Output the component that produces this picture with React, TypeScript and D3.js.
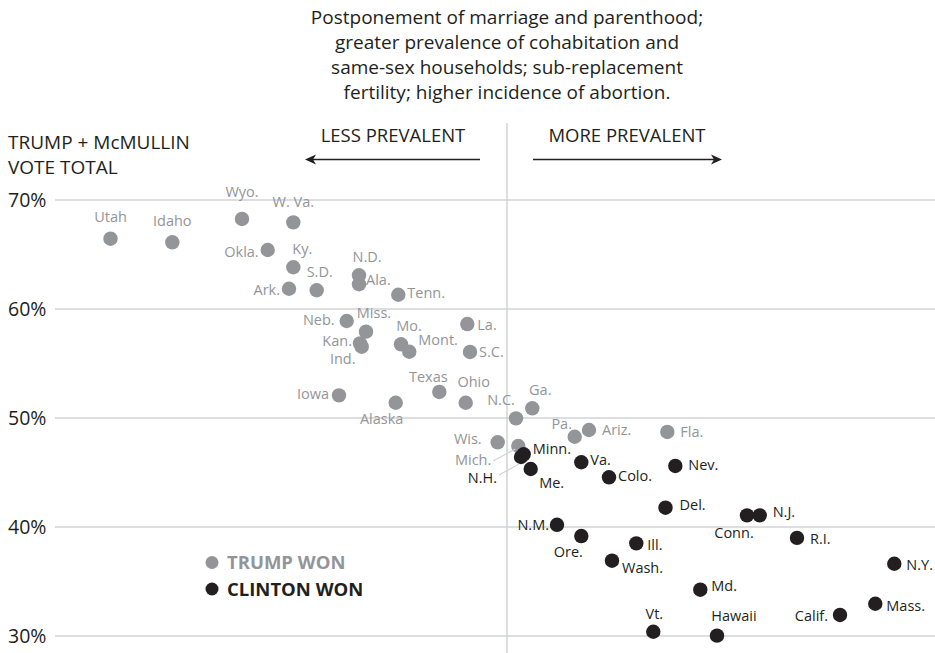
import React from "react";
import * as d3 from "d3";

// ---- Data ----
const titleLines = [
  "Postponement of marriage and parenthood;",
  "greater prevalence of cohabitation and",
  "same-sex households; sub-replacement",
  "fertility; higher incidence of abortion.",
];
const yAxisTitle = ["TRUMP + McMULLIN", "VOTE TOTAL"];
const yTicks = [70, 60, 50, 40, 30];
const directionLabels = ["LESS PREVALENT", "MORE PREVALENT"];
const legendLabels = ["TRUMP WON", "CLINTON WON"];

// [state, index (x), Trump+McMullin vote % (y)]
const trumpStates: [string, number, number][] = [
  ["Utah", -3.965, 66.45],
  ["Idaho", -3.347, 66.12],
  ["Wyo.", -2.65, 68.26],
  ["W. Va.", -2.137, 67.95],
  ["Okla.", -2.393, 65.41],
  ["Ky.", -2.137, 63.83],
  ["Ark.", -2.18, 61.86],
  ["S.D.", -1.903, 61.72],
  ["N.D.", -1.48, 63.09],
  ["Ala.", -1.48, 62.27],
  ["Tenn.", -1.087, 61.31],
  ["Neb.", -1.603, 58.9],
  ["Miss.", -1.41, 57.92],
  ["Kan.", -1.47, 56.85],
  ["Ind.", -1.453, 56.54],
  ["Mo.", -1.06, 56.76],
  ["Mont.", -0.977, 56.08],
  ["La.", -0.397, 58.62],
  ["S.C.", -0.37, 56.06],
  ["Iowa", -1.68, 52.08],
  ["Alaska", -1.113, 51.4],
  ["Texas", -0.677, 52.39],
  ["Ohio", -0.413, 51.4],
  ["N.C.", 0.09, 49.97],
  ["Ga.", 0.253, 50.89],
  ["Wis.", -0.093, 47.77],
  ["Mich.", 0.113, 47.43],
  ["Pa.", 0.677, 48.28],
  ["Ariz.", 0.82, 48.9],
  ["Fla.", 1.603, 48.72],
];

const clintonStates: [string, number, number][] = [
  ["N.H.", 0.14, 46.42],
  ["Minn.", 0.167, 46.67],
  ["Me.", 0.237, 45.32],
  ["Va.", 0.743, 45.94],
  ["Colo.", 1.02, 44.56],
  ["Nev.", 1.683, 45.6],
  ["Del.", 1.585, 41.77],
  ["N.M.", 0.5, 40.2],
  ["Conn.", 2.4, 41.07],
  ["N.J.", 2.527, 41.07],
  ["R.I.", 2.9, 39.0],
  ["Ore.", 0.743, 39.17],
  ["Ill.", 1.293, 38.5],
  ["Wash.", 1.05, 36.91],
  ["Md.", 1.933, 34.25],
  ["Vt.", 1.463, 30.39],
  ["Hawaii", 2.1, 30.03],
  ["Calif.", 3.33, 31.93],
  ["Mass.", 3.683, 32.96],
  ["N.Y.", 3.873, 36.63],
];

// ---- Label placement (anchor, dx, dy to text centre) ----
type Place = [string, number, number];
const labelPlace: Record<string, Place> = {
  Utah: ["middle", 0, -22],
  Idaho: ["middle", 0, -21],
  "Wyo.": ["middle", 0, -27],
  "W. Va.": ["middle", 0, -20],
  "Okla.": ["end", -9, 2],
  "Ky.": ["middle", 9, -18],
  "S.D.": ["middle", 3, -18],
  "Ark.": ["end", -9, 1],
  "N.D.": ["middle", 8, -18],
  "Ala.": ["start", 7, -4],
  "Tenn.": ["start", 9, -2],
  "Neb.": ["end", -12, -1],
  "Miss.": ["middle", 8, -19],
  "Kan.": ["end", -8, -2],
  "Ind.": ["middle", -19, 12],
  "Mo.": ["middle", 8, -18],
  "Mont.": ["start", 9, -12],
  "La.": ["start", 10, 1],
  "S.C.": ["start", 9, 0],
  Iowa: ["end", -10, -1],
  Alaska: ["middle", -14, 16],
  Texas: ["middle", -11, -15],
  Ohio: ["middle", 8, -21],
  "N.C.": ["middle", -15, -18],
  "Ga.": ["middle", 8, -18],
  "Wis.": ["end", -16, -3],
  "Mich.": ["end", -27, 14],
  "Pa.": ["middle", -13, -13],
  "Ariz.": ["start", 13, 0],
  "Fla.": ["start", 13, 0],
  "Minn.": ["start", 9, -5],
  "N.H.": ["end", -24, 21],
  "Me.": ["middle", 21, 14],
  "Va.": ["start", 9, -2],
  "Colo.": ["start", 9, -1],
  "Nev.": ["start", 13, -1],
  "Del.": ["start", 14, -3],
  "N.M.": ["end", -8, 0],
  "Conn.": ["middle", -13, 18],
  "N.J.": ["start", 13, -3],
  "R.I.": ["start", 13, 1],
  "Ore.": ["middle", -13, 16],
  "Ill.": ["start", 11, 2],
  "Wash.": ["start", 10, 7],
  "Md.": ["start", 11, -4],
  "Vt.": ["middle", 1, -18],
  Hawaii: ["middle", 17, -20],
  "Calif.": ["end", -12, 1],
  "Mass.": ["start", 11, 2],
  "N.Y.": ["start", 12, 1],
};
// leader lines [x1,y1,x2,y2] relative to dot
const leaders: Record<string, [number, number, number, number]> = {
  "Mich.": [-25, 15, -3, 3],
  "N.H.": [-22, 18, -2, 7],
};

const W = 935;
const H = 653;
const GRAY = "#939598";
const BLACK = "#231f20";
const GRID = "#d1d3d4";
const FONT = "'Open Sans', 'Noto Sans', sans-serif";

export default function App() {
  const x = d3.scaleLinear().domain([-4, 4]).range([107, 907]);
  const y = d3.scaleLinear().domain([30, 70]).range([636, 200]);
  const cx = x(0);

  const renderDots = (data: [string, number, number][], color: string) =>
    data.map(([name, vx, vy]) => (
      <circle key={"c" + name} cx={x(vx)} cy={y(vy)} r={7.2} fill={color} />
    ));
  const renderLabels = (data: [string, number, number][], color: string) =>
    data.map(([name, vx, vy]) => {
      const p = labelPlace[name] || ["start", 10, 0];
      const px = x(vx);
      const py = y(vy);
      const ld = leaders[name];
      return (
        <g key={"l" + name}>
          {ld && (
            <line
              x1={px + ld[0]}
              y1={py + ld[1]}
              x2={px + ld[2]}
              y2={py + ld[3]}
              stroke={GRID}
              strokeWidth={1.2}
            />
          )}
          <text
            x={px + p[1]}
            y={py + p[2] + 5}
            textAnchor={p[0] as any}
            fill={color}
            fontSize={14.5}
          >
            {name}
          </text>
        </g>
      );
    });

  const arrowY = 159.5;
  return (
    <svg
      width={W}
      height={H}
      style={{ position: "absolute", left: 0, top: 0, display: "block" }}
      fontFamily={FONT}
    >
      <rect width={W} height={H} fill="#fff" />
      {/* title */}
      {titleLines.map((t, i) => (
        <text key={t} x={cx} y={24 + i * 25} textAnchor="middle" fontSize={19} fill={BLACK}>
          {t}
        </text>
      ))}
      {/* y axis title */}
      {yAxisTitle.map((t, i) => (
        <text key={t} x={8} y={149 + i * 25} fontSize={19} fill={BLACK}>
          {t}
        </text>
      ))}
      {/* gridlines and ticks */}
      {yTicks.map((t) => (
        <g key={t}>
          <line x1={55} x2={W} y1={y(t)} y2={y(t)} stroke={GRID} strokeWidth={1.5} />
          <text x={8} y={y(t) + 7} fontSize={19.5} fill={BLACK}>
            {t}%
          </text>
        </g>
      ))}
      {/* centre line */}
      <line x1={cx} x2={cx} y1={123} y2={H} stroke={GRID} strokeWidth={1.5} />
      {/* direction labels */}
      <text x={393} y={142} textAnchor="middle" fontSize={18.5} fill={BLACK}>
        {directionLabels[0]}
      </text>
      <text x={627} y={142} textAnchor="middle" fontSize={18.5} fill={BLACK}>
        {directionLabels[1]}
      </text>
      <line x1={480} x2={312} y1={arrowY} y2={arrowY} stroke={BLACK} strokeWidth={1.6} />
      <path d={`M305,${arrowY} L316,${arrowY - 5} L313,${arrowY} L316,${arrowY + 5} Z`} fill={BLACK} />
      <line x1={533} x2={715} y1={arrowY} y2={arrowY} stroke={BLACK} strokeWidth={1.6} />
      <path d={`M722,${arrowY} L711,${arrowY - 5} L714,${arrowY} L711,${arrowY + 5} Z`} fill={BLACK} />
      {/* marks */}
      {renderDots(trumpStates, GRAY)}
      {renderDots(clintonStates, BLACK)}
      {renderLabels(trumpStates, GRAY)}
      {renderLabels(clintonStates, BLACK)}
      {/* legend */}
      <circle cx={212} cy={562.5} r={6.5} fill={GRAY} />
      <text x={227} y={569} fontSize={18.5} fontWeight="bold" fill={GRAY}>
        {legendLabels[0]}
      </text>
      <circle cx={212} cy={589} r={6.5} fill={BLACK} />
      <text x={227} y={595.5} fontSize={18.5} fontWeight="bold" fill={BLACK}>
        {legendLabels[1]}
      </text>
    </svg>
  );
}
